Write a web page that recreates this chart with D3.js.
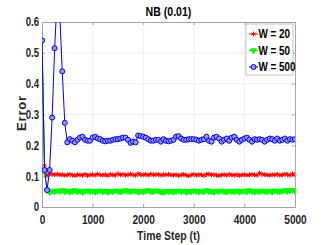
<!DOCTYPE html>
<html>
<head>
<meta charset="utf-8">
<script src="https://cdn.jsdelivr.net/npm/d3@7"></script>
<style>
  body { margin: 0; background: #fff; }
  text { font-family: "Liberation Sans", Arial, sans-serif; font-weight: bold; }
</style>
</head>
<body>
<div id="chart"></div>
<script>
const FRAME_WIDTH = 327;
const FRAME_HEIGHT = 245;
const MARGINS = {left: 42, right: 32, top: 22, bottom: 38};
const VIS_WIDTH = FRAME_WIDTH - MARGINS.left - MARGINS.right;
const VIS_HEIGHT = FRAME_HEIGHT - MARGINS.top - MARGINS.bottom;

// time steps 0..5000, every 50
const STEPS = d3.range(0, 5001, 50);

const W20 = [
  0.54, 0.135, 0.102, 0.108, 0.106, 0.105, 0.107, 0.104, 0.105, 0.103,
  0.104, 0.106, 0.103, 0.102, 0.105, 0.104, 0.103, 0.106, 0.102, 0.104,
  0.105, 0.103, 0.107, 0.104, 0.103, 0.105, 0.102, 0.106, 0.104, 0.103,
  0.108, 0.104, 0.106, 0.103, 0.105, 0.107, 0.104, 0.103, 0.108, 0.105,
  0.104, 0.106, 0.103, 0.107, 0.104, 0.105, 0.106, 0.103, 0.105, 0.104,
  0.106, 0.104, 0.103, 0.105, 0.102, 0.104, 0.106, 0.103, 0.101, 0.104,
  0.106, 0.103, 0.105, 0.104, 0.102, 0.106, 0.107, 0.104, 0.105, 0.103,
  0.102, 0.104, 0.105, 0.103, 0.106, 0.104, 0.103, 0.105, 0.102, 0.104,
  0.105, 0.103, 0.104, 0.106, 0.104, 0.103, 0.110, 0.106, 0.105, 0.104,
  0.103, 0.105, 0.104, 0.106, 0.103, 0.104, 0.107, 0.105, 0.103, 0.108,
  0.105
];

const W50 = [
  0.54, 0.115, 0.055, 0.048, 0.052, 0.050, 0.053, 0.051, 0.054, 0.050,
  0.052, 0.049, 0.051, 0.054, 0.050, 0.052, 0.048, 0.051, 0.053, 0.050,
  0.052, 0.049, 0.051, 0.053, 0.050, 0.052, 0.048, 0.051, 0.050, 0.053,
  0.051, 0.049, 0.052, 0.054, 0.051, 0.050, 0.053, 0.052, 0.049, 0.051,
  0.050, 0.052, 0.054, 0.051, 0.050, 0.053, 0.052, 0.049, 0.048, 0.051,
  0.050, 0.052, 0.049, 0.051, 0.053, 0.050, 0.052, 0.048, 0.051, 0.050,
  0.053, 0.051, 0.049, 0.052, 0.050, 0.054, 0.051, 0.050, 0.048, 0.052,
  0.051, 0.053, 0.050, 0.049, 0.052, 0.051, 0.050, 0.053, 0.049, 0.051,
  0.052, 0.050, 0.054, 0.051, 0.049, 0.052, 0.050, 0.053, 0.051, 0.050,
  0.052, 0.049, 0.053, 0.051, 0.050, 0.052, 0.054, 0.051, 0.053, 0.055,
  0.052
];

const W500 = [
  0.54, 0.12, 0.055, 0.12, 0.29, 0.515, 0.68, 0.63, 0.44, 0.273,
  0.210, 0.220, 0.215, 0.210, 0.218, 0.225, 0.228, 0.218, 0.215, 0.215,
  0.225, 0.228, 0.222, 0.220, 0.215, 0.213, 0.215, 0.215, 0.218, 0.220,
  0.220, 0.222, 0.225, 0.225, 0.218, 0.208, 0.212, 0.210, 0.232, 0.230,
  0.228, 0.225, 0.220, 0.215, 0.215, 0.218, 0.218, 0.212, 0.220, 0.215,
  0.213, 0.215, 0.218, 0.228, 0.230, 0.222, 0.218, 0.218, 0.220, 0.220,
  0.220, 0.218, 0.215, 0.218, 0.220, 0.228, 0.215, 0.212, 0.225, 0.228,
  0.222, 0.212, 0.218, 0.222, 0.215, 0.225, 0.228, 0.218, 0.212, 0.218,
  0.222, 0.225, 0.218, 0.212, 0.220, 0.218, 0.220, 0.218, 0.212, 0.218,
  0.222, 0.220, 0.215, 0.222, 0.215, 0.218, 0.222, 0.215, 0.220, 0.218,
  0.220
];

const SERIES_NAMES = ["W = 20", "W = 50", "W = 500"];
const SERIES_COLORS = ["#ff0000", "#00ff00", "#0000ff"];
const X_TICKS = [0, 1000, 2000, 3000, 4000, 5000];
const Y_TICKS = [0, 0.1, 0.2, 0.3, 0.4, 0.5, 0.6];

const series = [W20, W50, W500].map((vals, i) => ({
  name: SERIES_NAMES[i],
  color: SERIES_COLORS[i],
  points: vals.map((v, j) => ({t: STEPS[j], v: v}))
}));

// squeeze text horizontally to mimic a narrow font
function condense(sel, k) {
  sel.each(function () {
    const w = this.getComputedTextLength();
    d3.select(this).attr("textLength", w * k).attr("lengthAdjust", "spacingAndGlyphs");
  });
}

const FRAME = d3.select("#chart")
  .append("svg")
    .attr("width", FRAME_WIDTH)
    .attr("height", FRAME_HEIGHT);

const X_SCALE = d3.scaleLinear().domain([0, 5000]).range([0, VIS_WIDTH]);
const Y_SCALE = d3.scaleLinear().domain([0, 0.6]).range([VIS_HEIGHT, 0]);

const G = FRAME.append("g")
  .attr("transform", "translate(" + MARGINS.left + "," + MARGINS.top + ")");

// grid
G.append("g").selectAll("line").data(X_TICKS.slice(1, -1)).enter().append("line")
  .attr("x1", d => X_SCALE(d)).attr("x2", d => X_SCALE(d))
  .attr("y1", 0).attr("y2", VIS_HEIGHT)
  .attr("stroke", "#ebebeb").attr("stroke-width", 0.8);
G.append("g").selectAll("line").data(Y_TICKS.slice(1, -1)).enter().append("line")
  .attr("x1", 0).attr("x2", VIS_WIDTH)
  .attr("y1", d => Y_SCALE(d)).attr("y2", d => Y_SCALE(d))
  .attr("stroke", "#ebebeb").attr("stroke-width", 0.8);

// axes
const xAxis = G.append("g")
  .attr("transform", "translate(0," + VIS_HEIGHT + ")")
  .call(d3.axisBottom(X_SCALE).tickValues(X_TICKS).tickSize(-3).tickPadding(6).tickFormat(d3.format("d")));
const yAxis = G.append("g")
  .call(d3.axisLeft(Y_SCALE).tickValues(Y_TICKS).tickSize(-3).tickPadding(3)
    .tickFormat(d => d === 0 ? "0" : d3.format(".1f")(d)));
G.append("g")
  .attr("transform", "translate(" + VIS_WIDTH + ",0)")
  .call(d3.axisRight(Y_SCALE).tickValues(Y_TICKS).tickSize(-3).tickFormat(""));
G.append("g")
  .call(d3.axisTop(X_SCALE).tickValues(X_TICKS).tickSize(-3).tickFormat(""));

G.selectAll(".domain").attr("stroke", "#a6a6a6");
G.selectAll(".tick line").attr("stroke", "#a6a6a6");
[xAxis, yAxis].forEach(a => a.selectAll("text")
  .attr("fill", "#262626").attr("font-size", "12px").attr("font-family", null));
xAxis.selectAll("text").attr("dy", "0.95em");
condense(xAxis.selectAll("text"), 0.84);
condense(yAxis.selectAll("text"), 0.8);

// clip for lines
FRAME.append("clipPath").attr("id", "clip")
  .append("rect").attr("width", VIS_WIDTH).attr("height", VIS_HEIGHT);

const PLOT = G.append("g").attr("clip-path", "url(#clip)");

const line = d3.line().x(d => X_SCALE(d.t)).y(d => Y_SCALE(d.v));

const markerFor = [
  {type: d3.symbolAsterisk, size: 16, fill: "none", rot: 0},
  {type: d3.symbolTriangle, size: 14, fill: null, rot: 180},
  {type: d3.symbolCircle, size: 20, fill: "#9999ff", rot: 0}
];

series.forEach((s, i) => {
  PLOT.append("path")
    .datum(s.points)
    .attr("fill", "none")
    .attr("stroke", s.color)
    .attr("stroke-width", 1)
    .attr("d", line);
  const m = markerFor[i];
  PLOT.append("g").selectAll("path").data(s.points).enter().append("path")
    .attr("transform", d => "translate(" + X_SCALE(d.t) + "," + Y_SCALE(d.v) + ") rotate(" + m.rot + ")")
    .attr("d", d3.symbol().type(m.type).size(m.size))
    .attr("fill", m.fill === null ? s.color : m.fill)
    .attr("stroke", s.color)
    .attr("stroke-width", 1);
});

// title and labels
const title = FRAME.append("text")
  .attr("x", MARGINS.left + VIS_WIDTH / 2).attr("y", 16)
  .attr("text-anchor", "middle").attr("font-size", "12px").attr("fill", "#000")
  .text("NB (0.01)");
condense(title, 0.88);
const xLabel = FRAME.append("text")
  .attr("x", MARGINS.left + VIS_WIDTH / 2).attr("y", 240)
  .attr("text-anchor", "middle").attr("font-size", "13px").attr("fill", "#262626")
  .text("Time Step (t)");
condense(xLabel, 0.8);
FRAME.append("text")
  .attr("transform", "translate(26,113) rotate(-90)")
  .attr("text-anchor", "middle").attr("font-size", "13px").attr("fill", "#262626")
  .attr("letter-spacing", "0.8px")
  .text("Error");

// legend
const LEG = FRAME.append("g").attr("transform", "translate(246,24)");
LEG.append("rect").attr("width", 47).attr("height", 51)
  .attr("fill", "#fff").attr("stroke", "#b3b3b3").attr("stroke-width", 0.8);
series.forEach((s, i) => {
  const y = 10 + i * 16.5;
  const m = markerFor[i];
  LEG.append("line").attr("x1", 3).attr("x2", 12).attr("y1", y).attr("y2", y)
    .attr("stroke", s.color).attr("stroke-width", 1);
  LEG.append("path")
    .attr("transform", "translate(7.5," + y + ") rotate(" + m.rot + ")")
    .attr("d", d3.symbol().type(m.type).size(m.size))
    .attr("fill", m.fill === null ? s.color : m.fill)
    .attr("stroke", s.color).attr("stroke-width", 1);
  const lt = LEG.append("text").attr("x", 12.5).attr("y", y + 4)
    .attr("font-size", "12px").attr("fill", "#000")
    .text(s.name);
  condense(lt, 0.82);
});
</script>
</body>
</html>
